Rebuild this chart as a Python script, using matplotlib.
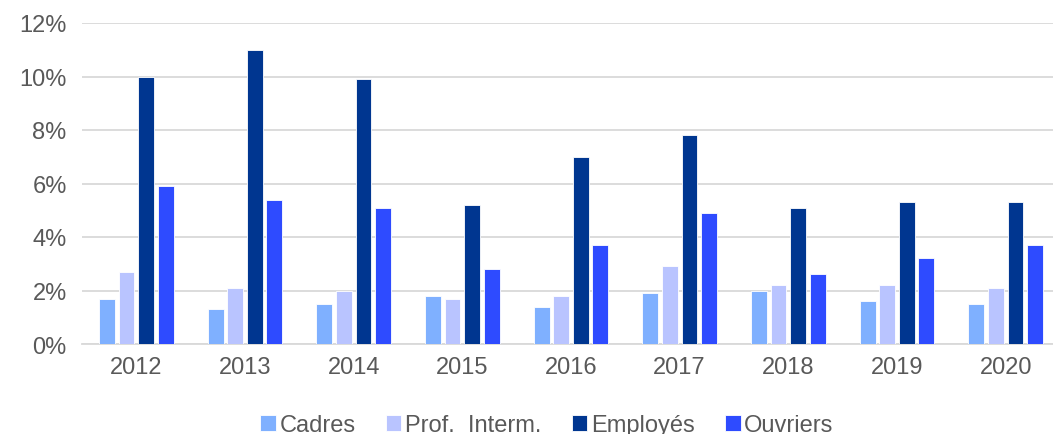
import numpy as np
import matplotlib.pyplot as plt
from matplotlib.ticker import FuncFormatter

years = ["2012", "2013", "2014", "2015", "2016", "2017", "2018", "2019", "2020"]
cadres = [1.7, 1.3, 1.5, 1.8, 1.4, 1.9, 2.0, 1.6, 1.5]
prof_interm = [2.7, 2.1, 2.0, 1.7, 1.8, 2.9, 2.2, 2.2, 2.1]
employes = [10.0, 11.0, 9.9, 5.2, 7.0, 7.8, 5.1, 5.3, 5.3]
ouvriers = [5.9, 5.4, 5.1, 2.8, 3.7, 4.9, 2.6, 3.2, 3.7]

series = [
    ("Cadres", cadres, "#7FB0FF"),
    ("Prof.  Interm.", prof_interm, "#B9C4FF"),
    ("Employés", employes, "#003690"),
    ("Ouvriers", ouvriers, "#2E4BFF"),
]

plt.rcParams['font.family'] = ['Liberation Sans', 'DejaVu Sans']
grey = "#595959"

fig = plt.figure(figsize=(10.53, 4.35), dpi=100)
ax = fig.add_axes([82 / 1053, 1 - 345 / 435, 978 / 1053, 321 / 435])

x = np.arange(len(years))
pitch = 0.18
width = 0.145
for i, (name, vals, col) in enumerate(series):
    ax.bar(x + (i - 1.5) * pitch, vals, width, color=col, label=name,
           edgecolor="white", linewidth=0.6, zorder=3)

ax.set_xlim(-0.5, len(years) - 0.5)
ax.set_ylim(0, 12)
ax.set_yticks(np.arange(0, 13, 2))
ax.yaxis.set_major_formatter(FuncFormatter(lambda v, p: f"{v:.0f}%"))
ax.set_xticks(x)
ax.set_xticklabels(years)
ax.grid(axis="y", color="#D9D9D9", linewidth=1.3, zorder=0)
for s in ["top", "right", "left"]:
    ax.spines[s].set_visible(False)
ax.spines["bottom"].set_color("#D9D9D9")
ax.spines["bottom"].set_linewidth(1.3)
ax.tick_params(axis="both", length=0, labelsize=17, labelcolor=grey)
ax.tick_params(axis="x", pad=9)
ax.tick_params(axis="y", pad=11)

fig.legend(loc="center", bbox_to_anchor=(547 / 1053, 1 - 426 / 435), ncol=4,
           frameon=False, fontsize=17, labelcolor=grey, handlelength=0.65,
           handleheight=0.65, handletextpad=0.15, columnspacing=1.3)

fig.savefig("out.png", dpi=100)
